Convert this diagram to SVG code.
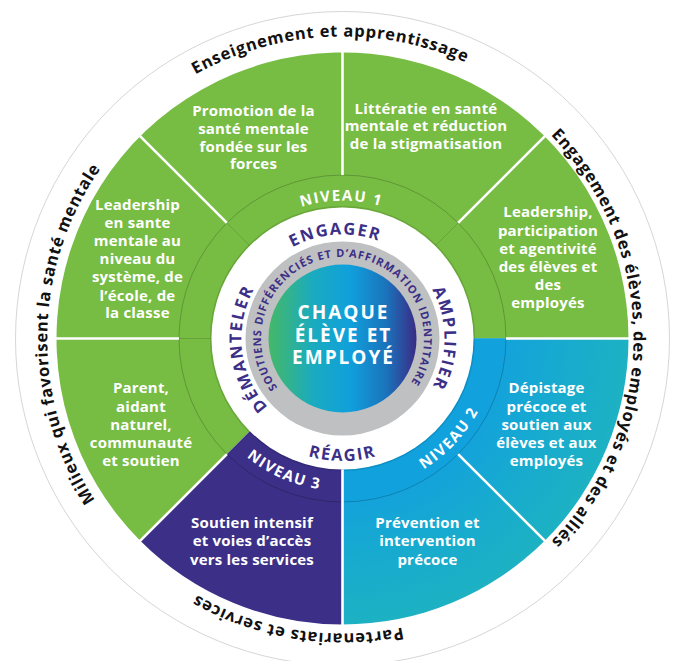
<svg xmlns="http://www.w3.org/2000/svg" width="674" height="661" viewBox="0 0 674 661">
<defs>
<style>
.seg{font-family:"Open Sans","Liberation Sans",sans-serif;font-weight:700;font-size:15px;fill:#fff;text-anchor:middle;letter-spacing:0.2px}
.outer{font-family:"Open Sans","Liberation Sans",sans-serif;font-weight:700;font-size:16.5px;fill:#111;letter-spacing:0.75px}
.lvl{font-family:"Open Sans","Liberation Sans",sans-serif;font-weight:700;font-size:15px;fill:#fff;letter-spacing:1.5px}
.act{font-family:"Open Sans","Liberation Sans",sans-serif;font-weight:700;font-size:16.5px;fill:#3c2f87;letter-spacing:1.7px}
.sup{font-family:"Open Sans","Liberation Sans",sans-serif;font-weight:700;font-size:11px;fill:#3c2f87;letter-spacing:0.95px}
.core{font-family:"Open Sans","Liberation Sans",sans-serif;font-weight:700;font-size:19px;fill:#fff;text-anchor:middle;letter-spacing:2px}
.div{stroke:#fff;stroke-width:2.6;fill:none}
.faint{stroke:#000;stroke-opacity:0.13;stroke-width:1;fill:none}
</style>
<radialGradient id="teal" cx="342.5" cy="338.5" r="286" gradientUnits="userSpaceOnUse">
<stop offset="0.55" stop-color="#13a2dc"/>
<stop offset="0.75" stop-color="#17aad0"/>
<stop offset="1" stop-color="#1db1c3"/>
</radialGradient>
<linearGradient id="coreg" x1="0" y1="0" x2="1" y2="0">
<stop offset="0" stop-color="#45b867"/>
<stop offset="0.3" stop-color="#1aabbf"/>
<stop offset="0.55" stop-color="#10a0dc"/>
<stop offset="0.8" stop-color="#1b72bb"/>
<stop offset="1" stop-color="#3a2b85"/>
</linearGradient>
<path id="pTop" d="M 39.79 351.72 A 303 303 0 0 1 645.21 325.28"/>
<path id="pRight" d="M 342.5 47.5 A 291 291 0 0 1 342.5 629.5"/>
<path id="pLeft" d="M 337.32 635.45 A 297 297 0 0 1 347.68 41.55"/>
<path id="pBottom" d="M 633.87 384.65 A 295 295 0 0 1 51.13 292.35"/>
<path id="pN1" d="M 203.51 339.71 A 139 139 0 0 1 481.49 337.29"/>
<path id="pEng" d="M 237.76 345.82 A 105 105 0 0 1 447.24 331.18"/>
<path id="pAmp" d="M 342.5 236.5 A 102 102 0 0 1 342.5 440.5"/>
<path id="pDem" d="M 354.05 439.84 A 102 102 0 0 1 330.95 237.16"/>
<path id="pSup" d="M 304.13 410.40 A 81.5 81.5 0 0 1 339.80 257.04 A 81.5 81.5 0 0 1 385.57 407.69"/>
<path id="pRea" d="M 220 338.5 A 122.5 122.5 0 0 0 465 338.5"/>
<path id="pN3" d="M 201.95 276.80 A 153.5 153.5 0 0 0 483.05 400.20"/>
<path id="pN2" d="M 237.47 451.13 A 154 154 0 0 0 447.53 225.87"/>
</defs>
<rect width="674" height="661" fill="#fff"/>
<circle cx="342.5" cy="338.5" r="327" fill="none" stroke="#d6d6d6" stroke-width="1"/>

<g id="wheel-base">
<path d="M 342.5 338.5 L 140.27 540.73 A 286 286 0 1 1 628.5 338.5 Z" fill="#77bc43"/>
<path d="M 342.5 338.5 L 342.5 624.5 A 286 286 0 0 1 140.27 540.73 Z" fill="#3c2f87"/>
<path d="M 342.5 338.5 L 628.5 338.5 A 286 286 0 0 1 342.5 624.5 Z" fill="url(#teal)"/>
<path d="M 473.5 338.5 L 506 338.5 A 163.5 163.5 0 0 1 342.5 502 L 342.5 469.5 A 131 131 0 0 0 473.5 338.5 Z" fill="#11a2de"/>
<circle cx="342.5" cy="338.5" r="163.5" fill="none" stroke="#000" stroke-opacity="0.2" stroke-width="1"/>
<circle cx="342.5" cy="338.5" r="131.8" fill="none" stroke="#000" stroke-opacity="0.12" stroke-width="1.6"/>
<circle cx="342.5" cy="338.5" r="131" fill="#fff"/>
<circle cx="342.5" cy="338.5" r="97" fill="#bfc0c2"/>
<circle cx="342.5" cy="338.5" r="74" fill="url(#coreg)"/>
</g>

<g id="connectors">
<line class="div" x1="179" y1="338.5" x2="55" y2="338.5"/>
<line class="div" x1="226.89" y1="222.89" x2="139.56" y2="135.56"/>
<line class="div" x1="342.5" y1="175" x2="342.5" y2="51"/>
<line class="div" x1="458.11" y1="222.89" x2="545.44" y2="135.56"/>
<line class="div" x1="506" y1="338.5" x2="630" y2="338.5"/>
<line class="div" x1="458.11" y1="454.11" x2="545.44" y2="541.44"/>
<line class="div" x1="342.5" y1="469.5" x2="342.5" y2="626"/>
<line class="div" x1="226.89" y1="454.11" x2="139.56" y2="541.44"/>
<line class="faint" x1="211.5" y1="338.5" x2="179" y2="338.5"/>
<line class="faint" x1="249.87" y1="245.87" x2="226.89" y2="222.89"/>
<line class="faint" x1="435.13" y1="245.87" x2="458.11" y2="222.89"/>
</g>

<g id="ring-labels">
<text class="lvl"><textPath href="#pN1" startOffset="50%" text-anchor="middle">NIVEAU 1</textPath></text>
<text class="lvl"><textPath href="#pN2" startOffset="50%" text-anchor="middle">NIVEAU 2</textPath></text>
<text class="lvl"><textPath href="#pN3" startOffset="50%" text-anchor="middle">NIVEAU 3</textPath></text>
<text class="act"><textPath href="#pEng" startOffset="50%" text-anchor="middle">ENGAGER</textPath></text>
<text class="act"><textPath href="#pAmp" startOffset="50%" text-anchor="middle">AMPLIFIER</textPath></text>
<text class="act"><textPath href="#pDem" startOffset="50%" text-anchor="middle">DÉMANTELER</textPath></text>
<text class="act"><textPath href="#pRea" startOffset="50%" text-anchor="middle">RÉAGIR</textPath></text>
<text class="sup"><textPath href="#pSup" startOffset="50%" text-anchor="middle">SOUTIENS DIFFÉRENCIÉS ET D’AFFIRMATION IDENTITAIRE</textPath></text>
</g>

<g id="core">
<text class="core"><tspan x="343.5" y="319">CHAQUE</tspan><tspan x="343.5" y="342.3">ÉLÈVE ET</tspan><tspan x="343.5" y="364">EMPLOYÉ</tspan></text>
</g>

<g id="node-promotion"><text class="seg"><tspan x="253.5" y="115.7">Promotion de la</tspan><tspan x="253.5" y="133.5">santé mentale</tspan><tspan x="253.5" y="151.5">fondée sur les</tspan><tspan x="253.5" y="169.3">forces</tspan></text></g>
<g id="node-litteratie"><text class="seg"><tspan x="426" y="113.5">Littératie en santé</tspan><tspan x="426" y="131.3">mentale et réduction</tspan><tspan x="426" y="149.3">de la stigmatisation</tspan></text></g>
<g id="node-leadership-systeme"><text class="seg"><tspan x="137.5" y="209.5">Leadership</tspan><tspan x="137.5" y="227.6">en sante</tspan><tspan x="137.5" y="246.3">mentale au</tspan><tspan x="137.5" y="264.3">niveau du</tspan><tspan x="137.5" y="282.4">système, de</tspan><tspan x="137.5" y="300.5">l’école, de</tspan><tspan x="137.5" y="318.4">la classe</tspan></text></g>
<g id="node-leadership-eleves"><text class="seg"><tspan x="548" y="217.4">Leadership,</tspan><tspan x="548" y="235.8">participation</tspan><tspan x="548" y="254.1">et agentivité</tspan><tspan x="548" y="272.2">des élèves et</tspan><tspan x="548" y="290.3">des</tspan><tspan x="548" y="308.3">employés</tspan></text></g>
<g id="node-parent"><text class="seg"><tspan x="141" y="393.2">Parent,</tspan><tspan x="141" y="412.2">aidant</tspan><tspan x="141" y="430.3">naturel,</tspan><tspan x="141" y="448.2">communauté</tspan><tspan x="141" y="466.2">et soutien</tspan></text></g>
<g id="node-depistage"><text class="seg"><tspan x="546.5" y="393.2">Dépistage</tspan><tspan x="546.5" y="412.2">précoce et</tspan><tspan x="546.5" y="430.3">soutien aux</tspan><tspan x="546.5" y="448.2">élèves et aux</tspan><tspan x="546.5" y="466.2">employés</tspan></text></g>
<g id="node-soutien"><text class="seg"><tspan x="252" y="528.1">Soutien intensif</tspan><tspan x="252" y="546.3">et voies d’accès</tspan><tspan x="252" y="565.2">vers les services</tspan></text></g>
<g id="node-prevention"><text class="seg"><tspan x="427.5" y="528.1">Prévention et</tspan><tspan x="427.5" y="546.3">intervention</tspan><tspan x="427.5" y="565.2">précoce</tspan></text></g>

<g id="outer-labels">
<text class="outer"><textPath href="#pTop" startOffset="50%" text-anchor="middle">Enseignement et apprentissage</textPath></text>
<text class="outer"><textPath href="#pRight" startOffset="50%" text-anchor="middle">Engagement des élèves, des employés et des alliés</textPath></text>
<text class="outer"><textPath href="#pLeft" startOffset="50%" text-anchor="middle">Milieux qui favorisent la santé mentale</textPath></text>
<text class="outer"><textPath href="#pBottom" startOffset="50%" text-anchor="middle">Partenariats et services</textPath></text>
</g>
</svg>
